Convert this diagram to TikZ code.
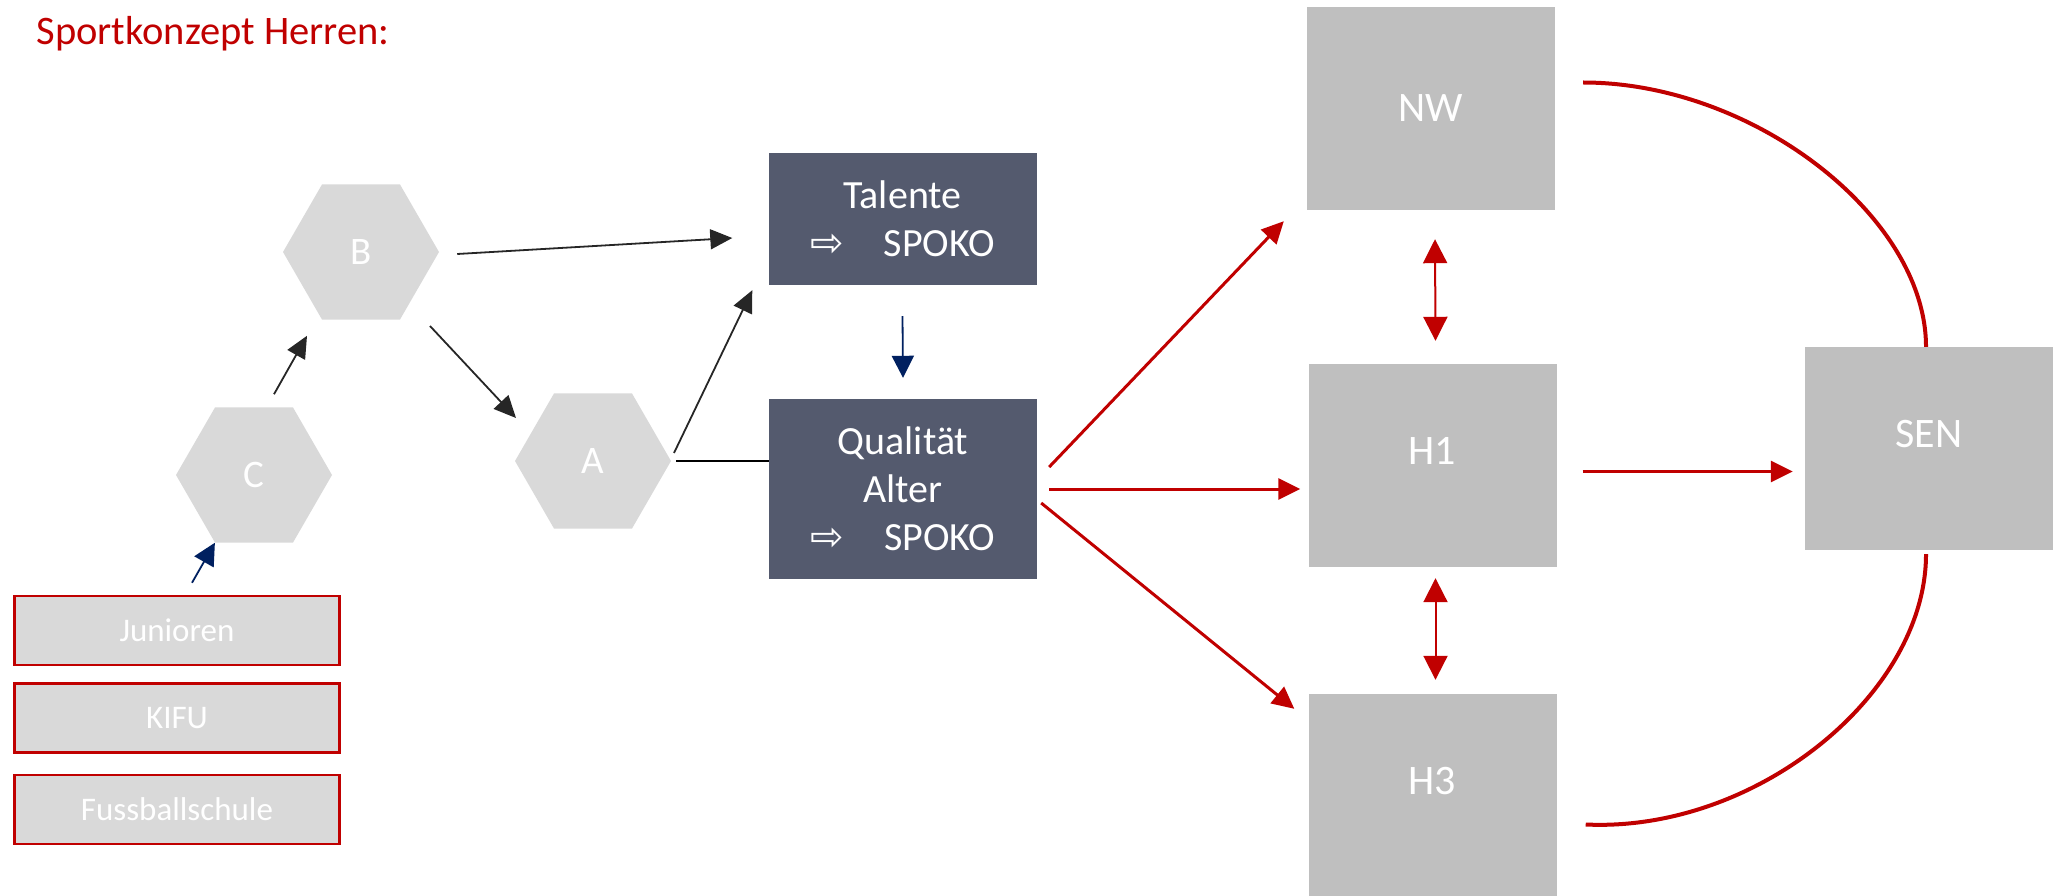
\documentclass[tikz,border=0pt]{standalone}
\usepackage{fontspec}
\setmainfont{Carlito}
\newfontfamily\symfont{DejaVu Sans}
\definecolor{titlered}{HTML}{C00000}
\definecolor{navy}{HTML}{002060}
\definecolor{slate}{HTML}{545A6E}
\definecolor{hexgray}{HTML}{D9D9D9}
\definecolor{boxgray}{HTML}{BFBFBF}
\usetikzlibrary{arrows.meta,shapes.geometric,positioning}
\newcommand{\spoko}{{\symfont ⇨}\hspace{40pt}SPOKO}
\tikzset{
	hexa/.style={
		regular polygon,
		regular polygon sides=6,
		fill=hexgray,
		minimum size=156pt,
		inner sep=0pt,
		text=white,
		font=\fontsize{39}{47}\selectfont
	},
	darkbox/.style={
		rectangle,
		fill=slate,
		minimum width=268pt,
		text=white,
		align=center,
		font=\fontsize{40}{48}\selectfont
	},
	graybox/.style={
		rectangle,
		fill=boxgray,
		minimum width=248pt,
		minimum height=203pt,
		text=white,
		font=\fontsize{42}{50}\selectfont
	},
	lifted/.style={
		text depth=30pt
	},
	basebox/.style={
		rectangle,
		draw=titlered,
		line width=2.5pt,
		fill=hexgray,
		minimum width=325pt,
		minimum height=69pt,
		text=white,
		font=\fontsize{33}{40}\selectfont
	},
	arrow/.style={
		draw=black!85,
		line width=1.8pt,
		-{Triangle[length=22pt,width=20pt]}
	},
	bluearrow/.style={
		draw=navy,
		line width=1.8pt,
		-{Triangle[length=22pt,width=22pt]}
	},
	redarrow/.style={
		draw=titlered,
		line width=3pt,
		-{Triangle[length=22pt,width=21pt]}
	},
	dblarrow/.style={
		draw=titlered,
		line width=2pt,
		{Triangle[length=24pt,width=24pt]}-{Triangle[length=24pt,width=24pt]}
	},
	redcurve/.style={
		draw=titlered,
		line width=4pt
	},
}

\begin{document}
\begin{tikzpicture}[x=1pt,y=-1pt]
\useasboundingbox (0,0) rectangle (2053,896);
\node [anchor=base west,text=titlered,font=\fontsize{40.5}{48}\selectfont] (title) at (33,45) {Sportkonzept Herren:};

\node [hexa] (B) at (361,252) {B};
\node [hexa] (C) at (254,475) {C};
\node [hexa] (A) at (593,461) {A};
\node [darkbox,minimum height=132pt] (T) at (902.5,219) {Talente\\\spoko};
\node [darkbox,minimum height=180pt] (Q) at (903,489) {Qualität\\Alter\\\spoko};
\node [graybox] (NW) at (1431,108.5) {NW};
\node [graybox,lifted] (H1) at (1432.5,465.5) {H1};
\node [graybox,lifted] (H3) at (1432.5,795.5) {H3};
\node [graybox,lifted] (SEN) at (1929,448.5) {SEN};
\node [basebox] (Jun) at (177,630.5) {Junioren};
\node [basebox] (KIFU) [below=16pt of Jun] {KIFU};
\node [basebox] (Fuss) [below=20pt of KIFU] {Fussballschule};

\draw[bluearrow] ([shift={(15,-12)}]Jun.north) -- (C.240);
\draw[arrow] ([shift={(20,-13)}]C.north) -- ([shift={(-54,16)}]B.south);
\draw[arrow] ([shift={(18,2)}]B.east) -- ([shift={(-36,19)}]T.west);
\draw[arrow] ([shift={(69,74)}]B.center) -- ([shift={(-77,-43)}]A.center);
\draw[arrow] ([shift={(81,-8)}]A.center) -- ([shift={(-16,5)}]T.south west);
\draw[line width=2pt] ([xshift=5pt]A.east) -- (A.east -| Q.west);
\draw[bluearrow] ([yshift=-31pt]T.south) -- ([yshift=21pt]Q.north);

\draw[redarrow] ([shift={(12,-22)}]Q.east) -- ([shift={(-23,11)}]NW.south west);
\draw[redarrow] ([xshift=12pt]Q.east) -- ([xshift=-8pt]Q.east -| H1.west);
\draw[redarrow] ([shift={(4,14)}]Q.east) -- ([shift={(-14,15)}]H3.north west);
\draw[dblarrow] ([shift={(4,29)}]NW.south) -- ([shift={(3,-23)}]H1.north);
\draw[dblarrow] ([shift={(3,11)}]H1.south) -- ([shift={(3,-14)}]H3.north);
\draw[redarrow] ([shift={(26,6)}]H1.east) -- ([shift={(-12,23)}]SEN.west);

\draw[redcurve] ([shift={(28,-26)}]NW.east) .. controls +(170,0) and +(0,-130) .. ([xshift=-3pt]SEN.north);
\draw[redcurve] ([shift={(29,29)}]H3.east) .. controls +(170,8) and +(0,140) .. ([shift={(-3,4)}]SEN.south);
\end{tikzpicture}
\end{document}
